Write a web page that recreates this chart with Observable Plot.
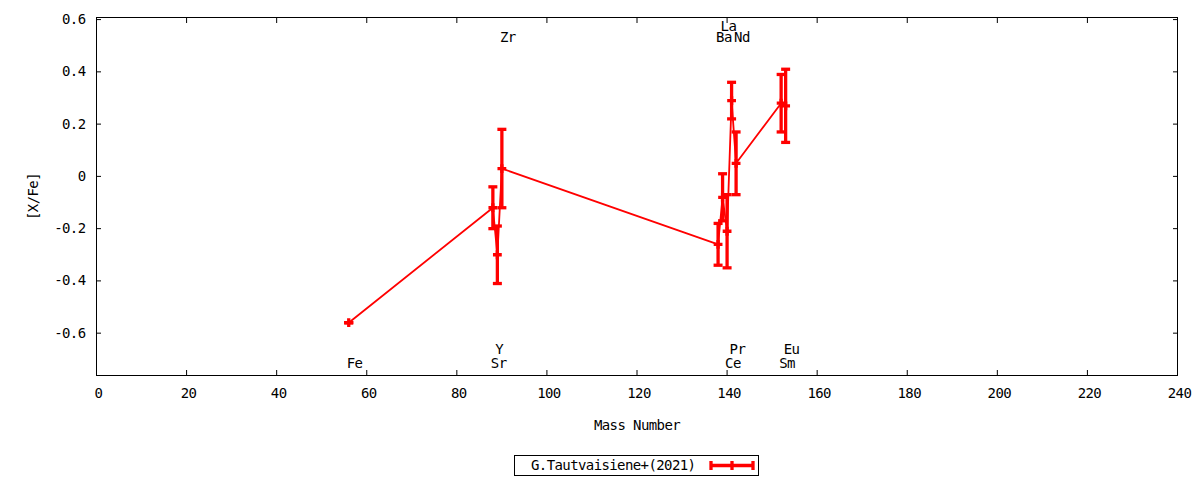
<!DOCTYPE html>
<html>
<head>
<meta charset="utf-8">
<script src="https://cdn.jsdelivr.net/npm/d3@7"></script>
<script src="https://cdn.jsdelivr.net/npm/@observablehq/plot@0.6"></script>
<style>
  html, body { margin: 0; padding: 0; background: #fff; }
  #wrap { position: relative; width: 1200px; height: 480px; }
  #legend {
    position: absolute; left: 514px; top: 455px; width: 245px; height: 21px;
    border: 1px solid #000; box-sizing: border-box;
    font-family: "DejaVu Sans Mono", monospace; font-size: 14px; letter-spacing: -0.6px;
  }
  #legend span { position: absolute; left: 16px; top: 0px; line-height: 19px; }
  #legend svg { position: absolute; left: 192px; top: 0px; }
</style>
</head>
<body>
<div id="wrap">
  <div id="chart"></div>
  <div id="legend"><span>G.Tautvaisiene+(2021)</span>
    <svg width="50" height="19">
      <g stroke="#ff0000" stroke-width="3.3" fill="none">
        <line x1="4" x2="46" y1="9.5" y2="9.5"/>
        <line x1="4" x2="4" y1="5" y2="14"/>
        <line x1="46" x2="46" y1="5" y2="14"/>
        <line x1="25" x2="25" y1="5" y2="14"/>
      </g>
    </svg>
  </div>
</div>
<script>
// ---- data ----
const elements = ["Fe", "Sr", "Y", "Zr", "Ba", "La", "Ce", "Pr", "Nd", "Sm", "Eu"];
const massNumbers = [56, 88, 89, 90, 138, 139, 140, 141, 142, 152, 153];
const xFe = [-0.56, -0.12, -0.30, 0.03, -0.26, -0.08, -0.21, 0.29, 0.05, 0.28, 0.27];
const xFeErr = [0.0, 0.08, 0.11, 0.15, 0.08, 0.09, 0.14, 0.07, 0.12, 0.11, 0.14];
const labelRows = ["bottom", "bottom", "bottom2", "top", "top", "top2", "bottom", "bottom2", "top", "bottom", "bottom2"];
const xTicks = [0, 20, 40, 60, 80, 100, 120, 140, 160, 180, 200, 220, 240];
const yTicks = [-0.6, -0.4, -0.2, 0, 0.2, 0.4, 0.6];
const seriesName = "G.Tautvaisiene+(2021)";

// ---- build table ----
const rowY = {top: 0.532, top2: 0.572, bottom: -0.717, bottom2: -0.662};
const data = elements.map((e, i) => ({
  el: e, mass: massNumbers[i], v: xFe[i],
  lo: xFe[i] - xFeErr[i], hi: xFe[i] + xFeErr[i],
  ly: rowY[labelRows[i]]
}));

const RED = "#ff0000";
const hbar = {
  draw(ctx, size) {
    const r = Math.sqrt(size / Math.PI);
    ctx.moveTo(-r, 0); ctx.lineTo(r, 0);
  }
};
const plus = {
  draw(ctx, size) {
    const r = Math.sqrt(size / Math.PI);
    ctx.moveTo(-r, 0); ctx.lineTo(r, 0);
    ctx.moveTo(0, -r); ctx.lineTo(0, r);
  }
};
const fmtY = d => d === 0 ? "0" : d.toFixed(1);

const chart = Plot.plot({
  width: 1200,
  height: 448,
  marginLeft: 96,
  marginRight: 23,
  marginTop: 17,
  marginBottom: 73,
  style: {fontFamily: "'DejaVu Sans Mono', monospace", fontSize: "14px", letterSpacing: "-0.6px", color: "#000", background: "#fff"},
  x: {domain: [0, 240]},
  y: {domain: [-0.762, 0.608]},
  marks: [
    Plot.frame({stroke: "#000", strokeWidth: 1}),
    Plot.axisX({anchor: "bottom", ticks: xTicks, tickSize: -5, tickFormat: () => "", label: null}),
    Plot.axisX({anchor: "bottom", ticks: xTicks, tickSize: 0, tickPadding: 13, tickFormat: d => String(d), dx: 2, label: null}),
    Plot.axisX({anchor: "bottom", ticks: [], label: "Mass Number", labelAnchor: "center", labelOffset: 54, labelArrow: "none"}),
    Plot.axisX({anchor: "top", ticks: xTicks, tickSize: -5, tickFormat: () => "", label: null}),
    Plot.axisY({anchor: "left", ticks: yTicks, tickSize: -5, tickPadding: 16, tickFormat: fmtY,
      label: "[X/Fe]", labelAnchor: "center", labelOffset: 68, labelArrow: "none"}),
    Plot.axisY({anchor: "right", ticks: yTicks, tickSize: -5, tickFormat: () => "", label: null}),
    Plot.line(data, {x: "mass", y: "v", stroke: RED, strokeWidth: 1.8}),
    Plot.ruleX(data, {x: "mass", y1: "lo", y2: "hi", stroke: RED, strokeWidth: 3.3}),
    Plot.dot(data, {x: "mass", y: "lo", symbol: hbar, r: 4.5, stroke: RED, strokeWidth: 3.3, fill: "none"}),
    Plot.dot(data, {x: "mass", y: "hi", symbol: hbar, r: 4.5, stroke: RED, strokeWidth: 3.3, fill: "none"}),
    Plot.dot(data, {x: "mass", y: "v", symbol: plus, r: 4.4, stroke: RED, strokeWidth: 3.3, fill: "none"}),
    Plot.text(data, {x: "mass", y: "ly", text: "el", textAnchor: "start", dx: -2, fill: "#000"})
  ]
});
document.getElementById("chart").appendChild(chart);
</script>
</body>
</html>
